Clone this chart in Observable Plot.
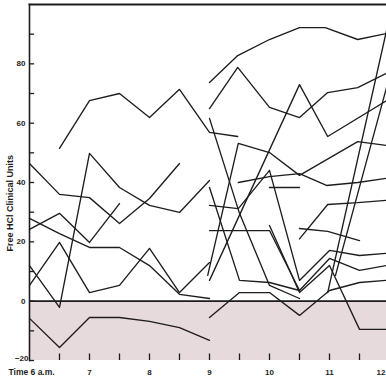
<!DOCTYPE html>
<html>
<head>
<meta charset="utf-8">
<script src="https://cdn.jsdelivr.net/npm/d3@7"></script>
<script src="https://cdn.jsdelivr.net/npm/@observablehq/plot@0.6"></script>
<style>
  html, body { margin: 0; padding: 0; background: #fff; }
  #chart svg { display: block; }
</style>
</head>
<body>
<div id="chart"></div>
<script>
// Each curve: times (hours) and Free HCl values (clinical units)
const curveP1 = { t: [6.5, 7, 7.5, 8, 8.5, 9, 9.47], v: [51.5, 67.6, 70.0, 61.9, 71.4, 56.9, 55.5] };
const curveP2 = { t: [6, 6.5, 7, 7.5, 8, 8.5], v: [46.4, 36.0, 34.9, 26.2, 34.6, 46.4] };
const curveP3 = { t: [6, 6.5, 7, 7.5], v: [24.2, 29.6, 19.8, 32.9] };
const curveP4 = { t: [6, 6.5, 7, 7.5, 8, 8.5, 9], v: [27.9, 22.8, 18.1, 18.1, 12.0, 2.3, 0.9] };
const curveP5 = { t: [6, 6.5, 7, 7.5, 8, 8.5, 9], v: [5.3, 19.8, 2.9, 5.3, 17.8, 2.9, 13.0] };
const curveP6 = { t: [6, 6.5, 7, 7.5, 8, 8.5, 9], v: [12.0, -2.1, 49.8, 38.3, 32.3, 29.9, 40.7] };
const curveN1 = { t: [6, 6.5, 7, 7.5, 8, 8.5, 9], v: [-5.8, -15.6, -5.5, -5.5, -6.8, -8.9, -13.2] };
const curveR1 = { t: [9, 9.47, 10, 10.5, 10.93, 11.47, 11.95], v: [73.7, 82.8, 88.2, 92.2, 92.2, 88.2, 90.2] };
const curveR2 = { t: [9, 9.47, 10, 10.5, 10.97, 11.47, 11.95], v: [64.9, 78.8, 65.3, 61.9, 70.3, 72.0, 76.8] };
const curveR3 = { t: [9, 10.5, 10.97, 11.95], v: [7.0, 73.0, 55.5, 67.6] };
const curveR4 = { t: [9, 9.5, 10, 10.5], v: [61.6, 29.6, 5.3, 0.9] };
const curveR5 = { t: [8.97, 9.48, 10, 10.5, 11.47, 11.95], v: [8.7, 53.2, 50.1, 42.4, 53.8, 52.5] };
const curveR6 = { t: [9, 9.48, 10, 10.5, 11, 11.5, 11.95], v: [32.3, 31.2, 44.1, 7.0, 17.1, 15.4, 16.1] };
const curveR7 = { t: [9, 9.48, 10, 10.5, 11, 11.5, 11.95], v: [23.8, 23.8, 23.8, 3.6, 14.4, 10.4, 12.0] };
const curveR8 = { t: [9, 9.5, 10, 10.5, 11, 11.5, 11.95], v: [-5.5, 2.9, 2.9, -4.8, 3.6, 6.3, 7.0] };
const curveR9 = { t: [10, 10.5, 11, 11.5, 11.95], v: [25.5, 2.9, 12.0, -9.5, -9.5] };
const curveR10 = { t: [9.48, 10, 10.5, 10.95, 11.47, 11.95], v: [40.0, 42.0, 43.0, 39.0, 40.0, 41.4] };
const curveR11 = { t: [10.5, 10.97, 11.5], v: [24.5, 23.5, 20.4] };
const curveR12 = { t: [9, 9.5, 10, 10.5], v: [38.3, 7.0, 6.3, 3.6] };
const curveR13 = { t: [10.5, 10.97, 11.47, 11.95], v: [21.0, 32.6, 33.2, 34.0] };
const curveR14 = { t: [10, 10.5], v: [38.3, 38.3] };
const curveS1 = { t: [10.97, 11.95], v: [2.9, 91.2] };
const curveS2 = { t: [11.1, 11.95], v: [8.7, 72.0] };

const curves = { curveP1, curveP2, curveP3, curveP4, curveP5, curveP6, curveN1,
  curveR1, curveR2, curveR3, curveR4, curveR5, curveR6, curveR7, curveR8, curveR9,
  curveR10, curveR11, curveR12, curveR13, curveR14, curveS1, curveS2 };

// axis ticks & labels
const yTickValues = [-20, -10, 0, 10, 20, 30, 40, 50, 60, 70, 80, 90];
const yLabelValues = [0, 20, 40, 60, 80];
const xTickValues = [6.5, 7, 7.5, 8, 8.5, 9, 9.5, 10, 10.5, 11, 11.5];
const xLabelValues = [7, 8, 9, 10, 11];
const xLabelText = ["7", "8", "9", "10", "11"];
const lastHour = [12];
const shadedBand = [{ from: -20, to: 0 }];

const rows = [];
for (const [name, c] of Object.entries(curves)) {
  c.t.forEach((t, i) => rows.push({ name, t, v: c.v[i] }));
}

const font = "'Liberation Sans', 'DejaVu Sans', sans-serif";
const ink = "#1d1d1d";

const chart = Plot.plot({
  width: 386,
  height: 377,
  marginLeft: 29,
  marginRight: -3,
  marginTop: 4,
  marginBottom: 17,
  style: { fontFamily: font, fontSize: "8px", color: ink, background: "#fff", overflow: "hidden" },
  x: { domain: [6, 12], axis: null },
  y: { domain: [-20, 100], axis: null },
  marks: [
    Plot.rectY(shadedBand, { x1: 6, x2: 12, y1: "from", y2: "to", fill: "#e6dadd" }),
    Plot.ruleY([0], { stroke: ink, strokeWidth: 1.6 }),
    Plot.frame({ anchor: "left", stroke: ink, strokeWidth: 1.6 }),
    Plot.frame({ anchor: "top", stroke: ink, strokeWidth: 2 }),
    Plot.ruleY(yTickValues, { x1: 6, x2: 6.085, stroke: ink, strokeWidth: 1.3 }),
    Plot.ruleX(xTickValues, { y1: -20, y2: -17.8, stroke: ink, strokeWidth: 1.3 }),
    Plot.line(rows, { x: "t", y: "v", z: "name", stroke: ink, strokeWidth: 1.35, curve: "linear" }),
    Plot.text(yLabelValues, { x: 6, y: d => d, text: d => String(d), textAnchor: "end", dx: -4, fontSize: 8, fontWeight: "bold", fill: ink }),
    Plot.text([-20], { x: 6, y: d => d, text: () => "−20", textAnchor: "end", dx: -1, dy: -2, fontSize: 8, fontWeight: "bold", fill: ink }),
    Plot.text(xLabelValues, { x: d => d, y: -20, text: (d, i) => xLabelText[i], dy: 12, fontSize: 8, fontWeight: "bold", fill: ink }),
    Plot.text(lastHour, { x: d => d, y: -20, text: d => String(d), textAnchor: "end", dx: -4, dy: 12, fontSize: 8, fontWeight: "bold", fill: ink }),
    Plot.text(["Time 6 a.m."], { x: 6, y: -20, text: d => d, textAnchor: "start", dx: -21, dy: 12, fontSize: 8.5, fontWeight: "bold", fill: ink }),
    Plot.text(["Free HCl Clinical Units"], { x: 6, y: 33, text: d => d, rotate: -90, dx: -19, fontSize: 9, fontWeight: "bold", fill: ink })
  ]
});
document.getElementById("chart").appendChild(chart);
</script>
</body>
</html>
